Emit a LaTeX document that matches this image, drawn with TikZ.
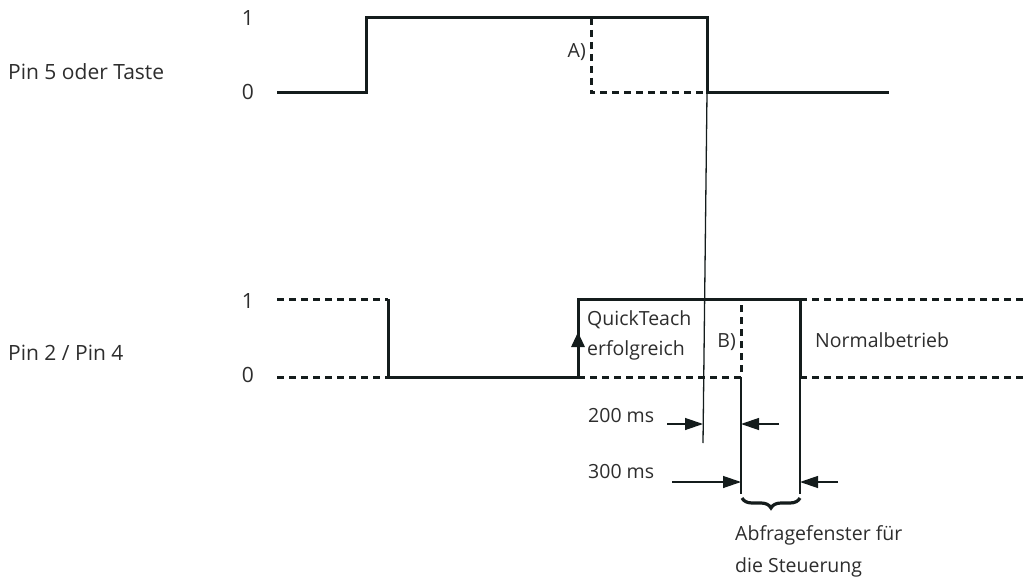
\documentclass[tikz,border=0pt]{standalone}
\usepackage{fontspec}
\setmainfont{Open Sans}
\usetikzlibrary{arrows.meta,decorations.pathreplacing}
\definecolor{SigLine}{RGB}{20,28,28}
\definecolor{TextGray}{RGB}{45,45,45}

\begin{document}
\begin{tikzpicture}[x=1pt,y=-1pt,>={Triangle[length=18pt,width=12pt]},
  font=\fontsize{19.5}{30}\selectfont,text=TextGray,
  sig/.style={SigLine,line width=3pt},
  dsig/.style={sig,dash pattern=on 7pt off 5pt},
  thinline/.style={SigLine,line width=1.3pt},
  biglabel/.style={font=\fontsize{21}{25}\selectfont,inner sep=0pt},
  txt/.style={inner sep=0pt}]
  \useasboundingbox (0,0) rectangle (1027,580);
  % Pin 5 oder Taste
  \node[biglabel,anchor=base west] (name5) at (8,80) {Pin 5 oder Taste};
  \node[biglabel,anchor=base] (hi5) at (248,26) {1};
  \node[biglabel,anchor=base] (lo5) at (248,100) {0};
  \coordinate (fall5) at (707,93);
  \draw[sig] (277,93) -- (366,93) -- (366,18) -- (707,18) -- (fall5) -- (889,93);
  \draw[dsig] (591,18) -- (591,93) -- (fall5);
  \node[txt,anchor=base east] (labA) at (586,58) {A)};
  % Pin 2 / Pin 4
  \node[biglabel,anchor=base west] (name2) at (8,360) {Pin 2 / Pin 4};
  \node[biglabel,anchor=base] (hi2) at (248,308) {1};
  \node[biglabel,anchor=base] (lo2) at (248,382) {0};
  \coordinate (wopen) at (741,377);
  \coordinate (wclose) at (800,377);
  \draw[dsig] (277,299) -- (388,299);
  \draw[dsig] (277,377) -- (388,377);
  \draw[sig] (388,299) -- (388,377) -- (578,377) -- (578,299) -- (800,299) -- (wclose);
  \draw[sig,-{Triangle[length=15pt,width=13pt]}] (578,362) -- (578,332);
  \draw[dsig] (578,377) -- (wopen) -- (741,299);
  \draw[dsig] (800,299) -- (1025,299);
  \draw[dsig] (wclose) -- (1025,377);
  \node[txt,anchor=base west] (labQ) at (587,325) {QuickTeach};
  \node[txt,anchor=base west] (labQb) at (587,355) {erfolgreich};
  \node[txt,anchor=base east] (labB) at (736,347) {B)};
  \node[txt,anchor=base west] (labN) at (815,347) {Normalbetrieb};
  % Zeiten
  \coordinate (m200) at (703,443);
  \coordinate (e300a) at (741,494);
  \coordinate (e300b) at (800,494);
  \draw[thinline] (fall5) -- (m200);
  \draw[thinline] (wopen) -- (e300a);
  \draw[thinline] (wclose) -- (e300b);
  \node[txt,anchor=base west] (t200) at (588,422) {200 ms};
  \node[txt,anchor=base west] (t300) at (588,478) {300 ms};
  \draw[thinline,->] (667,424) -- (m200 |- 0,424);
  \draw[thinline,->] (779,424) -- (wopen |- 0,424);
  \draw[thinline,->] (672,482) -- (wopen |- 0,482);
  \draw[thinline,->] (838,482) -- (wclose |- 0,482);
  \draw[SigLine,line width=3.2pt,decorate,decoration={brace,mirror,amplitude=10pt}]
    (742,498) -- (800,498);
  \node[txt,anchor=base west] (labW) at (735,540) {Abfragefenster für};
  \node[txt,anchor=base west] (labWb) at (735,572) {die Steuerung};
\end{tikzpicture}
\end{document}
